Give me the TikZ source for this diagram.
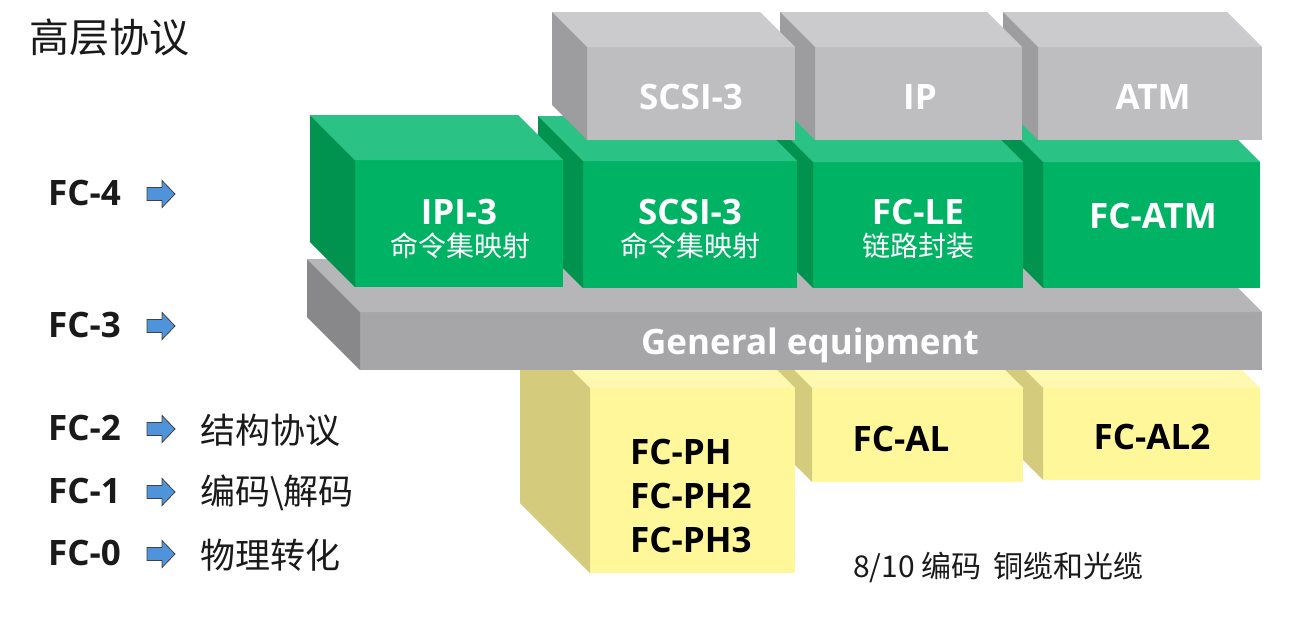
\documentclass[tikz,border=0pt]{standalone}
\usepackage{fontspec}
\setmainfont{Open Sans}
\newfontfamily\cjk{Noto Sans CJK SC}
\definecolor{grayfront}{HTML}{BEBEC0}
\definecolor{graytop}{HTML}{CBCACC}
\definecolor{grayleft}{HTML}{9D9C9F}
\definecolor{greenfront}{HTML}{00B264}
\definecolor{greentop}{HTML}{2BC385}
\definecolor{greenleft}{HTML}{00924F}
\definecolor{barfront}{HTML}{A6A5A8}
\definecolor{bartop}{HTML}{B6B5B7}
\definecolor{barleft}{HTML}{88878A}
\definecolor{yelfront}{HTML}{FFF79A}
\definecolor{yeltop}{HTML}{FFF8B0}
\definecolor{yelleft}{HTML}{D4CB7C}
\definecolor{arrowblue}{HTML}{4F94DA}
\definecolor{txtdark}{HTML}{1A1A1A}
% #1 x1, #2 y1, #3 x2, #4 y2, #5 depth, #6 front, #7 top, #8 left
\newcommand\fcbox[8]{%
  \fill[#6] (#1,#2) rectangle (#3,#4);
  \fill[#7] (#1,#2) -- (#3,#2) -- ({#3-#5},{#2-#5}) -- ({#1-#5},{#2-#5}) -- cycle;
  \fill[#8] (#1,#2) -- ({#1-#5},{#2-#5}) -- ({#1-#5},{#4-#5}) -- (#1,#4) -- cycle;
}
% block arrow whose left end sits at the named coordinate #1
\newcommand\blockarrow[1]{%
  \draw[blueArrow, shift={(#1)}] (0,-6.5) -- (15,-6.5) -- (15,-13.5) -- (28,0)
     -- (15,13.5) -- (15,6.5) -- (0,6.5) -- cycle;
}
\tikzset{
  wlbl/.style={text=white, font=\bfseries\fontsize{35}{40}\selectfont, inner sep=0pt},
  wsub/.style={text=white, font=\cjk\fontsize{28}{32}\selectfont, inner sep=0pt},
  blbl/.style={text=black, font=\bfseries\fontsize{35}{44}\selectfont, inner sep=0pt, align=left},
  fclbl/.style={text=txtdark, font=\bfseries\fontsize{35}{40}\selectfont, inner sep=0pt, anchor=west},
  cnlbl/.style={text=txtdark, font=\cjk\fontsize{35}{40}\selectfont, inner sep=0pt, anchor=west},
  blueArrow/.style={draw=black!75, line width=0.8pt, fill=arrowblue, line join=miter}
}
\begin{document}
\begin{tikzpicture}[x=1pt,y=-1pt]
\fill[white] (0,0) rectangle (1313,625);
\useasboundingbox (0,0) rectangle (1313,625);

% yellow boxes (bottom layer), right to left
\fcbox{1043}{388}{1260}{480}{70}{yelfront}{yeltop}{yelleft}
\fcbox{812}{388}{1023}{482}{70}{yelfront}{yeltop}{yelleft}
\fcbox{590}{388}{795}{573}{70}{yelfront}{yeltop}{yelleft}

% general equipment bar
\fcbox{360}{312}{1262}{370}{53}{barfront}{bartop}{barleft}

% green boxes, right to left
\fcbox{1043}{162}{1260}{288}{45}{greenfront}{greentop}{greenleft}
\fcbox{813}{162}{1023}{288}{45}{greenfront}{greentop}{greenleft}
\fcbox{583}{161}{797}{288}{45}{greenfront}{greentop}{greenleft}
\fcbox{355}{160}{563}{287}{45}{greenfront}{greentop}{greenleft}

% gray top boxes, right to left
\fcbox{1038}{47}{1262}{140}{35}{grayfront}{graytop}{grayleft}
\fcbox{815}{47}{1022}{140}{35}{grayfront}{graytop}{grayleft}
\fcbox{587}{47}{795}{140}{35}{grayfront}{graytop}{grayleft}

% labels on gray boxes
\node[wlbl] (gscsi) at (691,97) {SCSI-3};
\node[wlbl] (gip) at (920,97) {IP};
\node[wlbl] (gatm) at (1153,97) {ATM};

% labels on green boxes
\node[wlbl] (ipi) at (459,212) {IPI-3};
\node[wsub] (ipisub) at (460,246) {命令集映射};
\node[wlbl] (scsi) at (690,212) {SCSI-3};
\node[wsub] (scsisub) at (690,246) {命令集映射};
\node[wlbl] (fcle) at (918,212) {FC-LE};
\node[wsub] (fclesub) at (918,246) {链路封装};
\node[wlbl] (fcatm) at (1153,216) {FC-ATM};

% bar label
\node[wlbl] (gen) at (810,345) {General equipment};

% yellow labels
\node[blbl, anchor=west] (fcph) at (630,496) {FC-PH\\FC-PH2\\FC-PH3};
\node[blbl] (fcal) at (901,439) {FC-AL};
\node[blbl] (fcal2) at (1152,437) {FC-AL2};
\node[text=txtdark, font=\cjk\fontsize{30}{34}\selectfont, inner sep=0pt, anchor=west] (enc) at (853,567) {8/10 编码\hspace{12pt}铜缆和光缆};

% title
\node[text=txtdark, font=\cjk\fontsize{40}{44}\selectfont, inner sep=0pt, anchor=west] (title) at (29,37) {高层协议};

% left layer labels
\node[fclbl] (fc4) at (48,193) {FC-4};
\node[fclbl] (fc3) at (48,325) {FC-3};
\node[fclbl] (fc2) at (48,428) {FC-2};
\node[fclbl] (fc1) at (48,491) {FC-1};
\node[fclbl] (fc0) at (48,553) {FC-0};
\coordinate (a4) at (147,194);
\coordinate (a3) at (147,326);
\coordinate (a2) at (147,429);
\coordinate (a1) at (147,492);
\coordinate (a0) at (147,554);
\blockarrow{a4}
\blockarrow{a3}
\blockarrow{a2}
\blockarrow{a1}
\blockarrow{a0}
\node[cnlbl] (c2) at (200,430) {结构协议};
\node[cnlbl] (c1) at (200,493) {编码\textbackslash 解码};
\node[cnlbl] (c0) at (200,555) {物理转化};
\end{tikzpicture}
\end{document}
